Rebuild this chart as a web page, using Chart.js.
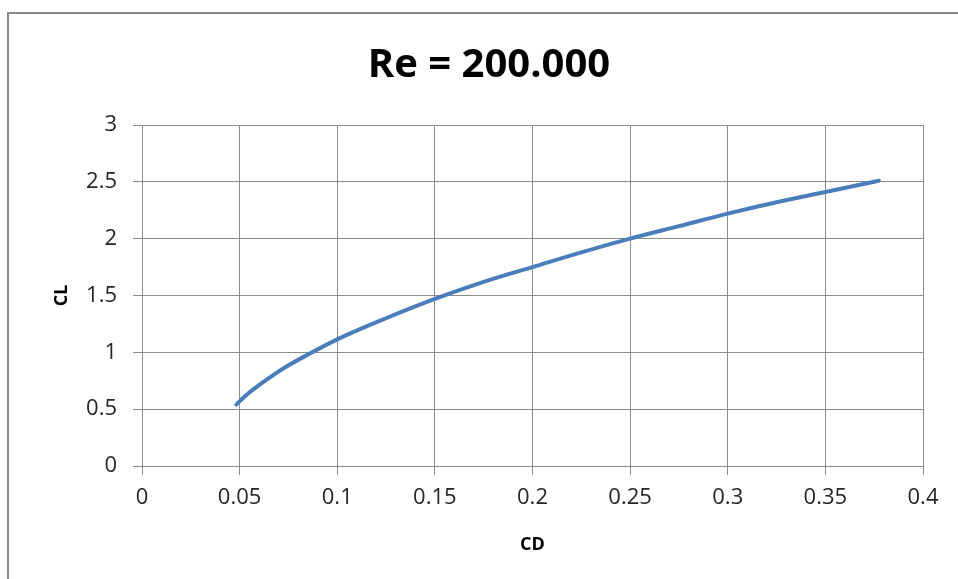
<!DOCTYPE html>
<html>
<head>
<meta charset="utf-8">
<script src="https://cdn.jsdelivr.net/npm/chart.js@4/dist/chart.umd.min.js"></script>
<style>
  html, body { margin: 0; padding: 0; background: #fff; overflow: hidden; }
  #wrap { position: relative; width: 958px; height: 579px; }
  #frame { position: absolute; left: 7px; top: 12px; width: 980px; height: 600px;
           border: 2px solid #8a8a8a; box-sizing: border-box; pointer-events: none; }
  canvas { position: absolute; left: 0; top: 0; }
</style>
</head>
<body>
<div id="wrap">
  <canvas id="polarChart" width="958" height="579"></canvas>
  <div id="frame"></div>
</div>
<script>
// Drag polar, Re = 200.000
var cdValues = [0.0483, 0.0525, 0.0575, 0.0655, 0.0755, 0.086, 0.0995, 0.125, 0.15,
                0.175, 0.2, 0.225, 0.25, 0.275, 0.3, 0.325, 0.35, 0.3774];
var clValues = [0.54, 0.61, 0.68, 0.78, 0.89, 0.99, 1.11, 1.30, 1.47,
                1.62, 1.75, 1.88, 2.00, 2.11, 2.22, 2.32, 2.41, 2.51];
var xTicks = [0, 0.05, 0.1, 0.15, 0.2, 0.25, 0.3, 0.35, 0.4];
var yTicks = [0, 0.5, 1, 1.5, 2, 2.5, 3];
var chartTitle = "Re = 200.000";

var points = cdValues.map(function (cd, i) {
  return { x: cd, y: clValues[i] };
});

var gridColor = "#8c8c8c";
var tickFont = { family: "'Open Sans', sans-serif", size: 22 };
var axisTitleFont = { family: "'Open Sans', sans-serif", size: 18, weight: "bold" };

// title is centred on the outer frame, not on the canvas
var frameTitle = {
  id: "frameTitle",
  afterDraw: function (chart) {
    var ctx = chart.ctx;
    ctx.save();
    ctx.font = "bold 40px 'Open Sans', sans-serif";
    ctx.fillStyle = "#000";
    ctx.textAlign = "center";
    ctx.textBaseline = "middle";
    ctx.fillText(chartTitle, 489, 66);
    ctx.restore();
  },
};

function plainLabel(value) {
  return String(value);
}

var ctx = document.getElementById("polarChart").getContext("2d");
var polarChart = new Chart(ctx, {
  type: "scatter",
  data: {
    datasets: [
      {
        label: "CL",
        data: points,
        showLine: true,
        borderColor: "#4a7ebb",
        borderWidth: 4,
        borderCapStyle: "round",
        pointRadius: 0,
        cubicInterpolationMode: "monotone",
      },
    ],
  },
  options: {
    responsive: false,
    animation: false,
    layout: { padding: { top: 125, right: 35, left: 0, bottom: 0 } },
    plugins: {
      legend: { display: false },
      tooltip: { enabled: false },
    },
    scales: {
      x: {
        type: "linear",
        min: 0,
        max: 0.4,
        afterBuildTicks: function (axis) {
          axis.ticks = xTicks.map(function (v) { return { value: v }; });
        },
        afterFit: function (axis) { axis.height = 113; },
        grid: { color: gridColor, tickLength: 9, tickColor: gridColor },
        border: { color: gridColor },
        ticks: { font: tickFont, color: "#262626", padding: 10, maxRotation: 0, callback: plainLabel },
        title: {
          display: true,
          text: "CD",
          font: axisTitleFont,
          color: "#000",
          padding: { top: 0, bottom: 23 },
        },
      },
      y: {
        type: "linear",
        min: 0,
        max: 3,
        afterBuildTicks: function (axis) {
          axis.ticks = yTicks.map(function (v) { return { value: v }; });
        },
        afterFit: function (axis) { axis.width = 142; },
        grid: { color: gridColor, tickLength: 9, tickColor: gridColor },
        border: { color: gridColor },
        ticks: { font: tickFont, color: "#262626", padding: 16, callback: plainLabel },
        title: {
          display: true,
          text: "CL",
          font: axisTitleFont,
          color: "#000",
          padding: { top: 51, bottom: 0 },
        },
      },
    },
  },
  plugins: [frameTitle],
});
</script>
</body>
</html>
